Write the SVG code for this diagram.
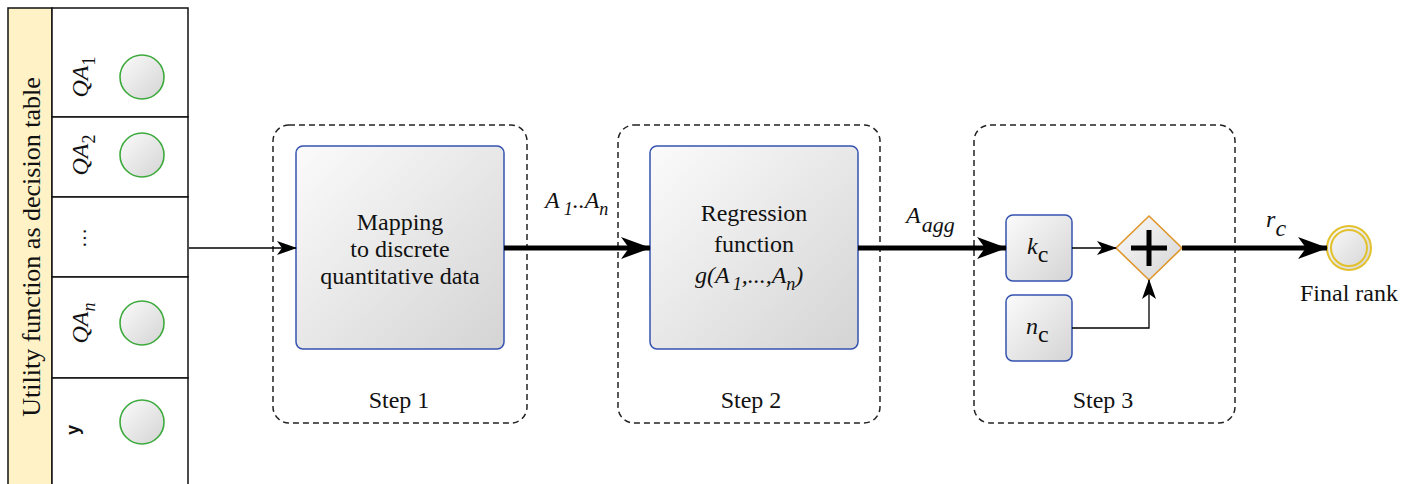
<svg xmlns="http://www.w3.org/2000/svg" width="1414" height="484" viewBox="0 0 1414 484">
  <defs>
    <linearGradient id="shade" x1="0" y1="0" x2="1" y2="1">
      <stop offset="0" stop-color="#fbfbfb"/>
      <stop offset="1" stop-color="#d4d4d4"/>
    </linearGradient>
    <marker id="headThin" viewBox="0 0 20 14" refX="19" refY="7" markerWidth="20" markerHeight="14" markerUnits="userSpaceOnUse" orient="auto">
      <path d="M0,0 L20,7 L0,14 L5,7 Z" fill="#000"/>
    </marker>
    <marker id="headThick" viewBox="0 0 30 22" refX="29" refY="11" markerWidth="30" markerHeight="22" markerUnits="userSpaceOnUse" orient="auto">
      <path d="M0,0 L30,11 L0,22 L8,11 Z" fill="#000"/>
    </marker>
    <style>
      text { font-family: "Liberation Serif", Tinos, "Noto Serif", "DejaVu Serif", FreeSerif, "Nimbus Roman", "Times New Roman", serif; fill: #111; }
      .sans { font-family: "Liberation Sans", "DejaVu Sans", Arial, sans-serif; }
      .it { font-style: italic; }
      .up { font-style: normal; }
      .task { fill: url(#shade); stroke: #3552b0; stroke-width: 1.5; }
      .group { fill: none; stroke: #222; stroke-width: 1.5; stroke-dasharray: 6 4; }
      .cell { fill: #fff; stroke: #111; stroke-width: 1.5; }
      .dot { fill: url(#shade); stroke: #3daa3d; stroke-width: 1.6; }
      .thin { fill: none; stroke: #000; stroke-width: 1.3; }
      .thick { fill: none; stroke: #000; stroke-width: 5; }
    </style>
  </defs>

  <rect width="1414" height="484" fill="#fff"/>

  <!-- decision table -->
  <g id="decision-table">
    <rect x="8" y="8" width="44" height="490" fill="#fff2c6" stroke="#111" stroke-width="1.5"/>
    <text font-size="26" text-anchor="middle" transform="translate(40,247) rotate(-90)">Utility function as decision table</text>
    <rect class="cell" x="52" y="8" width="136" height="109"/>
    <rect class="cell" x="52" y="117" width="136" height="80"/>
    <rect class="cell" x="52" y="197" width="136" height="80"/>
    <rect class="cell" x="52" y="277" width="136" height="101"/>
    <rect class="cell" x="52" y="378" width="136" height="120"/>
    <text class="it" font-size="24" text-anchor="middle" transform="translate(88,77) rotate(-90)">QA<tspan class="up" font-size="18" dy="7">1</tspan></text>
    <text class="it" font-size="24" text-anchor="middle" transform="translate(88,155) rotate(-90)">QA<tspan class="up" font-size="18" dy="7">2</tspan></text>
    <text font-size="20" text-anchor="middle" transform="translate(86,238) rotate(-90)">…</text>
    <text class="it" font-size="24" text-anchor="middle" transform="translate(88,323) rotate(-90)">QA<tspan font-size="18" dy="7">n</tspan></text>
    <text class="sans" font-size="18" font-weight="bold" text-anchor="middle" transform="translate(79,430) rotate(-90)">y</text>
    <circle class="dot" cx="142" cy="77" r="22"/>
    <circle class="dot" cx="142" cy="155" r="22"/>
    <circle class="dot" cx="142" cy="323" r="22"/>
    <circle class="dot" cx="142" cy="422" r="22"/>
  </g>

  <!-- step 1 -->
  <g id="step1">
    <rect class="group" x="273" y="125" width="254" height="298" rx="16"/>
    <rect class="task" x="296" y="146" width="208" height="203" rx="7"/>
    <text font-size="24" text-anchor="middle" x="400" y="230">Mapping</text>
    <text font-size="24" text-anchor="middle" x="400" y="257">to discrete</text>
    <text font-size="24" text-anchor="middle" x="400" y="284">quantitative data</text>
    <text font-size="24" text-anchor="middle" x="399" y="408">Step 1</text>
  </g>

  <!-- step 2 -->
  <g id="step2">
    <rect class="group" x="618" y="125" width="262" height="298" rx="16"/>
    <rect class="task" x="650" y="146" width="208" height="203" rx="7"/>
    <text font-size="24" text-anchor="middle" x="754" y="221">Regression</text>
    <text font-size="24" text-anchor="middle" x="754" y="252">function</text>
    <text class="it" font-size="24" x="695" y="283">g(A<tspan font-size="18" dx="3" dy="7">1</tspan><tspan dy="-7">,...,A</tspan><tspan font-size="18" dy="7">n</tspan><tspan dy="-7">)</tspan></text>
    <text font-size="24" text-anchor="middle" x="751" y="408">Step 2</text>
  </g>

  <!-- step 3 -->
  <g id="step3">
    <rect class="group" x="974" y="125" width="261" height="298" rx="16"/>
    <rect class="task" x="1006" y="215" width="66" height="66" rx="7"/>
    <text font-size="24" x="1027" y="254"><tspan class="it">k</tspan><tspan font-size="24" dy="8">c</tspan></text>
    <rect class="task" x="1006" y="295" width="66" height="66" rx="7"/>
    <text font-size="24" x="1026" y="334"><tspan class="it">n</tspan><tspan font-size="24" dy="8">c</tspan></text>
    <text font-size="24" text-anchor="middle" x="1103" y="408">Step 3</text>
  </g>

  <!-- parallel gateway -->
  <g id="gateway">
    <path d="M1149,216 L1182,248 L1149,280 L1116,248 Z" fill="url(#shade)" stroke="#e0962a" stroke-width="1.6"/>
    <path d="M1131,248 H1167 M1149,230 V266" stroke="#000" stroke-width="5"/>
  </g>

  <!-- end event -->
  <g id="final-rank">
    <circle cx="1349" cy="248" r="22" fill="url(#shade)" stroke="#e2c12c" stroke-width="2"/>
    <circle cx="1349" cy="248" r="18" fill="none" stroke="#e2c12c" stroke-width="2"/>
    <text font-size="24" text-anchor="middle" x="1349" y="301">Final rank</text>
  </g>

  <!-- connectors -->
  <g id="connectors">
    <path class="thin" d="M189,248 H296" marker-end="url(#headThin)"/>
    <path class="thick" d="M504,248 H650" marker-end="url(#headThick)"/>
    <path class="thick" d="M858,248 H1006" marker-end="url(#headThick)"/>
    <path class="thin" d="M1072,248 H1116" marker-end="url(#headThin)"/>
    <path class="thin" d="M1072,328 H1149 V280" marker-end="url(#headThin)"/>
    <path class="thick" d="M1182,248 H1327" marker-end="url(#headThick)"/>
    <text class="it" font-size="24" x="545" y="208">A<tspan font-size="18" dx="4" dy="7">1</tspan><tspan dy="-7">..A</tspan><tspan font-size="18" dy="7">n</tspan></text>
    <text class="it" font-size="24" x="906" y="223">A<tspan font-size="22" dx="1" dy="9">agg</tspan></text>
    <text class="it" font-size="24" x="1266" y="227">r<tspan font-size="24" dx="1" dy="9">c</tspan></text>
  </g>
</svg>
